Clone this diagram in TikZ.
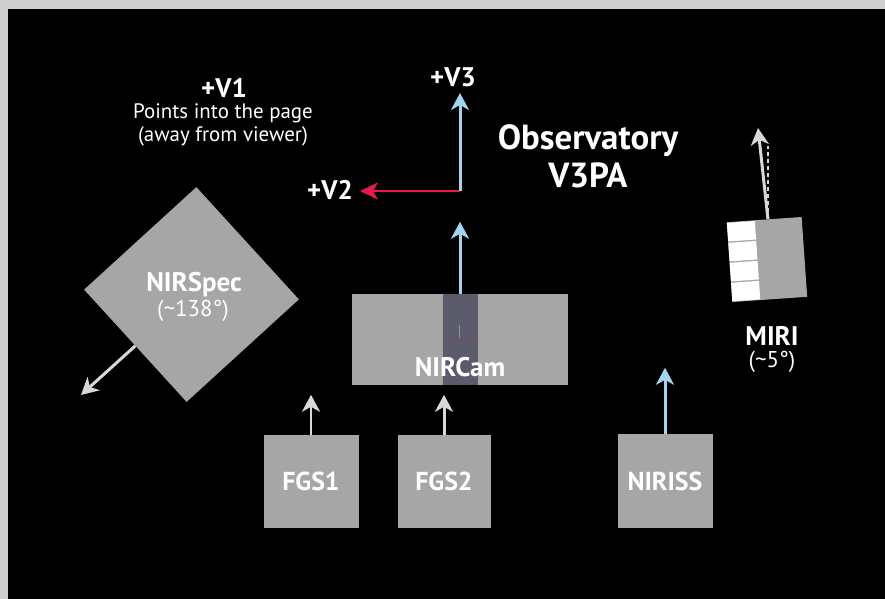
\documentclass[tikz,border=0pt]{standalone}
\usepackage{fontspec}
\setmainfont{PT Sans}
\usetikzlibrary{positioning,arrows.meta,calc}

\definecolor{framegrey}{HTML}{CFCFCF}
\definecolor{boxgrey}{HTML}{A6A6A6}
\definecolor{stripegrey}{HTML}{5C5B6B}
\definecolor{axisblue}{HTML}{A4D4EE}
\definecolor{axisred}{HTML}{E6194B}
\definecolor{arrowgrey}{HTML}{D8D8D8}

\begin{document}
\begin{tikzpicture}[x=1bp,y=-1bp,node distance=133bp,
  box/.style={fill=boxgrey,inner sep=0pt,text=white,font=\bfseries\fontsize{26}{30}\selectfont},
  lbl/.style={inner sep=0pt,text=white,font=\bfseries\fontsize{27}{30}\selectfont},
  sub/.style={inner sep=0pt,text=white,font=\fontsize{23}{26}\selectfont},
  axis/.style={inner sep=0pt,text=white,font=\bfseries\fontsize{27}{28}\selectfont},
  note/.style={inner sep=0pt,text=white,align=center,font=\fontsize{21}{23}\selectfont},
  title/.style={inner sep=0pt,text=white,align=center,font=\bfseries\fontsize{35}{38}\selectfont},
  bluearr/.style={draw=axisblue,line width=3pt,-{Stealth[length=17pt,width=18pt,inset=5pt]}},
  redarr/.style={draw=axisred,line width=3pt,-{Stealth[length=18pt,width=17pt,inset=5pt]}},
  greyarr/.style={draw=arrowgrey,line width=3pt,-{Stealth[length=17pt,width=18pt,inset=5pt]}}]

\useasboundingbox (0,0) rectangle (885,599);
\fill[framegrey] (0,0) rectangle (885,599);
\fill[black] (8,9) rectangle (885,599);

% telescope axes
\coordinate (origin) at (460,191);
\coordinate (vthreetip) at (460,93);
\coordinate (vtwotip) at (360,191);
\draw[redarr] (origin) -- (vtwotip);
\draw[bluearr] (origin) -- (vthreetip);
\node[axis] (vthree) at (453,77) {+V3};
\node[axis] (vtwo) at (330,190) {+V2};
\node[axis] (vone) at (224,88) {+V1};
\node[note] (vonenote) at (223,125) {Points into the page\\(away from viewer)};
\node[title] (obs) at (588,156) {Observatory\\V3PA};

% NIRCam
\node[box,minimum width=216bp,minimum height=91bp] (nircam) at (460,339.5) {};
\fill[stripegrey] (443,294) rectangle (478,385);
\draw[axisred,opacity=.6,line width=1pt,dash pattern=on 3pt off 3pt] (447,340) -- (474,340);
\draw[axisblue,opacity=.5,line width=1pt] (459,325) -- (459,338);
\node[lbl] at (460,367) {NIRCam};
\coordinate[above=72bp of nircam] (nircamtip);
\draw[bluearr] (nircam) -- (nircamtip);

% guiders and NIRISS
\node[box,minimum width=95bp,minimum height=93bp] (fgsone) at (311,481.5) {FGS1};
\node[box,minimum width=93bp,minimum height=93bp] (fgstwo) [right of=fgsone] {FGS2};
\node[box,minimum width=95bp,minimum height=94bp] (niriss) at (665,481) {NIRISS};
\coordinate[above=40bp of fgsone] (fgsonetip);
\coordinate[above=40bp of fgstwo] (fgstwotip);
\coordinate[above=66bp of niriss] (nirisstip);
\draw[greyarr] (fgsone) -- (fgsonetip);
\draw[greyarr] (fgstwo) -- (fgstwotip);
\draw[bluearr] (niriss) -- (nirisstip);

% NIRSpec
\node[box,minimum size=152bp,rotate=42.4] (nirspec) at (191.5,294.5) {};
\node[lbl] at (194,285) {NIRSpec};
\node[sub] at (193,311) {(\textasciitilde138°)};
\coordinate (nirspectip) at (81,395);
\draw[greyarr] (nirspec.west) -- (nirspectip);

% MIRI
\node[box,minimum width=75bp,minimum height=80bp,rotate=4] (miri) at (767,259.5) {};
\begin{scope}[shift={(miri.center)},rotate=4]
  \foreach \i in {0,...,3}
    \fill[white] (-37.5,-40+20*\i+0.7) rectangle (-9.5,-20+20*\i-0.7);
\end{scope}
\coordinate (miribase) at ($(miri.north west)!0.55!(miri.north east)$);
\coordinate (miritip) at (758,128);
\coordinate (mirivert) at ($(miribase)+(0,-73)$);
\draw[arrowgrey,line width=2.5pt,dash pattern=on 4pt off 3pt] (miribase) -- (mirivert);
\draw[greyarr] (miribase) -- (miritip);
\node[lbl] at (772,336) {MIRI};
\node[sub] at (772,362) {(\textasciitilde5°)};

\end{tikzpicture}
\end{document}
